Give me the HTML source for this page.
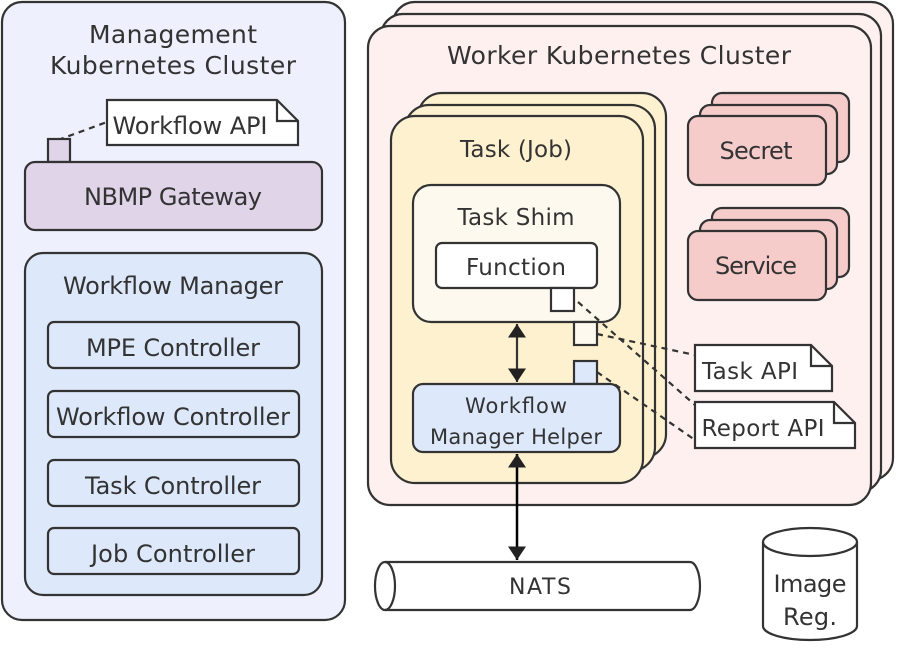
<!DOCTYPE html>
<html><head><meta charset="utf-8"><style>
html,body{margin:0;padding:0;background:#fff;}
svg{display:block;}
text{font-family:"DejaVu Sans","Liberation Sans",sans-serif;fill:#333;text-anchor:middle;}
</style></head><body>
<svg width="897" height="649" viewBox="0 0 897 649" xmlns="http://www.w3.org/2000/svg">
<defs>
<marker id="ah2" viewBox="0 0 12 16" markerWidth="14" markerHeight="18" refX="12" refY="8" orient="auto-start-reverse" markerUnits="userSpaceOnUse">
<path d="M0,0 L12,8 L0,16 Z" fill="#222"/></marker>
</defs>
<g stroke="#333" stroke-width="2.2">
<rect x="2" y="2" width="343" height="618" rx="20" fill="#eef1fd"/>
<line x1="58" y1="140" x2="107" y2="122" stroke-dasharray="6,5"/>
<path d="M107,100 H277 L298,121 V145 H107 Z" fill="#fff"/>
<path d="M277,100 V121 H298" fill="none"/>
<rect x="48" y="139" width="22" height="23" fill="#e0d4e8"/>
<rect x="25" y="162" width="297" height="68" rx="10" fill="#e0d4e8"/>
<rect x="25" y="253" width="297" height="342" rx="18" fill="#dde9fb"/>
<rect x="48" y="322" width="251" height="46" rx="6" fill="#dde9fb"/>
<rect x="48" y="391" width="251" height="46" rx="6" fill="#dde9fb"/>
<rect x="48" y="460" width="251" height="46" rx="6" fill="#dde9fb"/>
<rect x="48" y="528" width="251" height="46" rx="6" fill="#dde9fb"/>
<rect x="393" y="2" width="500" height="478" rx="22" fill="#fdf0ef"/>
<rect x="381" y="14" width="500" height="478" rx="22" fill="#fdf0ef"/>
<rect x="368" y="26" width="503" height="479" rx="22" fill="#fdf0ef"/>
<rect x="418" y="93" width="248" height="365" rx="24" fill="#fef1cf"/>
<rect x="405" y="105" width="250" height="366" rx="24" fill="#fef1cf"/>
<rect x="391" y="116" width="252" height="367" rx="24" fill="#fef1cf"/>
<rect x="413" y="185" width="207" height="137" rx="18" fill="#fef9ee"/>
<rect x="436" y="243" width="161" height="45" rx="6" fill="#fff"/>
<rect x="551" y="288" width="23" height="23" fill="#fff"/>
<rect x="574" y="322" width="23" height="23" fill="#fef9ee"/>
<rect x="574" y="361" width="23" height="23" fill="#dde9fb"/>
<rect x="413" y="384" width="207" height="68" rx="10" fill="#dde9fb"/>
<line x1="517" y1="324" x2="517" y2="382" marker-start="url(#ah2)" marker-end="url(#ah2)"/>
<rect x="712" y="93" width="137" height="69" rx="10" fill="#f6cccb"/>
<rect x="700" y="105" width="137" height="69" rx="10" fill="#f6cccb"/>
<rect x="688" y="116" width="138" height="69" rx="10" fill="#f6cccb"/>
<rect x="712" y="208" width="137" height="69" rx="10" fill="#f6cccb"/>
<rect x="700" y="220" width="137" height="69" rx="10" fill="#f6cccb"/>
<rect x="688" y="231" width="138" height="69" rx="10" fill="#f6cccb"/>
<g stroke-dasharray="6,5" fill="none">
<line x1="578" y1="302" x2="695" y2="405"/>
<line x1="597" y1="334" x2="695" y2="355"/>
<line x1="597" y1="372" x2="695" y2="440"/>
</g>
<path d="M695,345 H811 L832,366 V391 H695 Z" fill="#fff"/>
<path d="M811,345 V366 H832" fill="none"/>
<path d="M695,402 H834 L855,423 V448 H695 Z" fill="#fff"/>
<path d="M834,402 V423 H855" fill="none"/>
<path d="M385,562 H690 A10,24 0 0 1 690,610 H385 A10,24 0 0 1 385,562 Z" fill="#fff"/>
<path d="M385,562 A10,24 0 0 1 385,610" fill="none"/>
<line x1="517" y1="454" x2="517" y2="560" stroke="#000" stroke-width="2.5" marker-start="url(#ah2)" marker-end="url(#ah2)"/>
<path d="M763,542 A47,14 0 0 1 857,542 V626 A47,14 0 0 1 763,626 Z" fill="#fff"/>
<path d="M763,542 A47,14 0 0 0 857,542" fill="none"/>
</g>
<g font-size="25">
<text x="173" y="43" textLength="168">Management</text>
<text x="173" y="74" textLength="246">Kubernetes Cluster</text>
<text x="190" y="134" font-size="24" textLength="155">Workflow API</text>
<text x="173" y="205" font-size="24" textLength="178">NBMP Gateway</text>
<text x="173" y="294" font-size="24" textLength="220">Workflow Manager</text>
<text x="173" y="356" font-size="24" textLength="174">MPE Controller</text>
<text x="173" y="425" font-size="24" textLength="234">Workflow Controller</text>
<text x="173" y="494" font-size="24" textLength="176">Task Controller</text>
<text x="173" y="562" font-size="24" textLength="164">Job Controller</text>
<text x="619" y="64" textLength="344">Worker Kubernetes Cluster</text>
<text x="516" y="157" font-size="23" textLength="112">Task (Job)</text>
<text x="516" y="225" font-size="23" textLength="117">Task Shim</text>
<text x="516" y="275" font-size="23" textLength="100">Function</text>
<text x="516" y="413" font-size="21" textLength="102">Workflow</text>
<text x="516" y="444" font-size="21" textLength="172">Manager Helper</text>
<text x="756" y="159" font-size="24" textLength="73">Secret</text>
<text x="756" y="274" font-size="24" textLength="82">Service</text>
<text x="750" y="379" font-size="23" textLength="96">Task API</text>
<text x="763" y="436" font-size="23" textLength="123">Report API</text>
<text x="540" y="594" font-size="22" textLength="62">NATS</text>
<text x="810" y="592" font-size="24" textLength="73">Image</text>
<text x="810" y="625" font-size="24" textLength="54">Reg.</text>
</g>
</svg>
</body></html>
